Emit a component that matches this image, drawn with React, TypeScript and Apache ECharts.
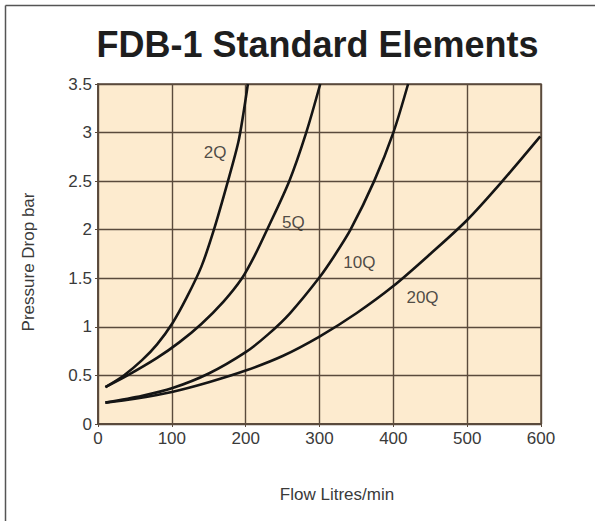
import React, { useEffect, useRef } from "react";
import * as echarts from "echarts";

const title = "FDB-1 Standard Elements";
const xName = "Flow Litres/min";
const yName = "Pressure Drop bar";

const q2: [number, number][] = [
  [10, 0.38], [35, 0.5], [60, 0.66], [80, 0.82], [101, 1.04], [120, 1.3],
  [140, 1.62], [157, 2.0], [176, 2.5], [190, 2.9], [197, 3.2], [203, 3.5],
];
const q5: [number, number][] = [
  [10, 0.38], [40, 0.5], [80, 0.68], [110, 0.84], [140, 1.03], [170, 1.26],
  [195, 1.5], [212, 1.73], [229, 2.0], [259, 2.5], [282, 3.0], [301, 3.5],
];
const q10: [number, number][] = [
  [10, 0.22], [60, 0.29], [101, 0.37], [150, 0.52], [200, 0.74], [230, 0.92],
  [260, 1.14], [299, 1.5], [320, 1.73], [342, 2.0], [374, 2.5], [400, 3.0],
  [420, 3.5],
];
const q20: [number, number][] = [
  [10, 0.22], [50, 0.26], [100, 0.33], [150, 0.43], [200, 0.55], [250, 0.7],
  [300, 0.9], [350, 1.14], [400, 1.42], [450, 1.75], [500, 2.1], [550, 2.52],
  [599, 2.96],
];

const seriesNames = ["2Q", "5Q", "10Q", "20Q"];
const labelPos: [number, number][] = [
  [158.5, 2.8], [264.5, 2.07], [354, 1.66], [439.5, 1.3],
];

const font = "'Liberation Sans', Arial, Helvetica, sans-serif";
const gridColor = "#5a4a3c";
const textColor = "#3a3a3a";

export default function App() {
  const ref = useRef<HTMLDivElement>(null);
  useEffect(() => {
    if (!ref.current) return;
    const chart = echarts.init(ref.current, null, { renderer: "svg" });
    const lineSeries = [q2, q5, q10, q20].map((d, i) => ({
      type: "line",
      name: seriesNames[i],
      data: d,
      smooth: 0.3,
      showSymbol: false,
      symbol: "none",
      lineStyle: { color: "#151515", width: 2.6 },
      z: 5,
    }));
    chart.setOption({
      animation: false,
      backgroundColor: "#ffffff",
      textStyle: { fontFamily: font },
      grid: {
        left: 98,
        right: 54,
        top: 84,
        bottom: 97,
        show: true,
        backgroundColor: "#fdebcf",
        borderColor: gridColor,
        borderWidth: 1.5,
      },
      xAxis: {
        type: "value",
        min: 0,
        max: 600,
        interval: 100,
        axisLine: { show: true, lineStyle: { color: gridColor, width: 1.8 } },
        axisTick: { show: true, length: 3, lineStyle: { color: gridColor } },
        splitLine: { show: true, lineStyle: { color: gridColor, width: 1.4 } },
        axisLabel: { color: textColor, fontSize: 17, fontFamily: font, margin: 6 },
      },
      yAxis: {
        type: "value",
        min: 0,
        max: 3.5,
        interval: 0.5,
        axisLine: { show: true, lineStyle: { color: gridColor, width: 1.8 } },
        axisTick: { show: true, length: 3, lineStyle: { color: gridColor } },
        splitLine: { show: true, lineStyle: { color: gridColor, width: 1.4 } },
        axisLabel: { color: textColor, fontSize: 17, fontFamily: font, margin: 6 },
      },
      series: [
        ...lineSeries,
        {
          type: "scatter",
          symbolSize: 1,
          itemStyle: { color: "rgba(0,0,0,0)" },
          data: labelPos.map((p, i) => ({ value: p, name: seriesNames[i] })),
          label: {
            show: true,
            position: "inside",
            formatter: (p: any) => p.name,
            color: "#222",
            fontSize: 17,
            fontFamily: font,
          },
          z: 6,
        },
      ],
      graphic: [
        {
          type: "line",
          shape: { x1: 5.5, y1: 5.5, x2: 595, y2: 5.5 },
          style: { stroke: "#555", lineWidth: 1.5 },
        },
        {
          type: "line",
          shape: { x1: 5.5, y1: 5.5, x2: 5.5, y2: 521 },
          style: { stroke: "#555", lineWidth: 1.5 },
        },
        {
          type: "text",
          x: 317.5,
          y: 44,
          style: {
            text: title,
            font: `bold 36px ${font}`,
            fill: "#1e1e1e",
            align: "center",
            verticalAlign: "middle",
          },
        },
        {
          type: "text",
          x: 28,
          y: 262,
          rotation: Math.PI / 2,
          style: {
            text: yName,
            font: `17px ${font}`,
            fill: textColor,
            align: "center",
            verticalAlign: "middle",
          },
        },
        {
          type: "text",
          x: 337,
          y: 494,
          style: {
            text: xName,
            font: `17px ${font}`,
            fill: textColor,
            align: "center",
            verticalAlign: "middle",
          },
        },
      ],
    });
    return () => chart.dispose();
  }, []);
  return (
    <div
      ref={ref}
      style={{ position: "fixed", left: 0, top: 0, width: 595, height: 521 }}
    />
  );
}
